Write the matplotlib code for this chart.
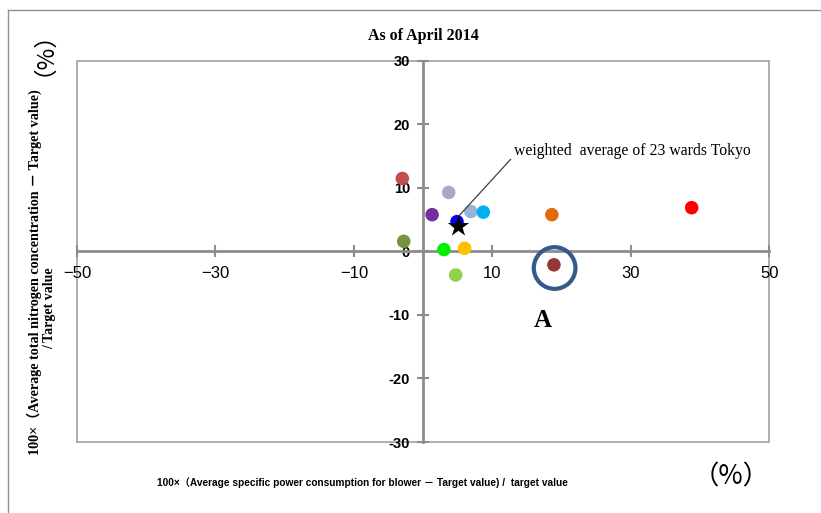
import matplotlib
matplotlib.use("Agg")
import matplotlib.pyplot as plt
from matplotlib.lines import Line2D
from matplotlib.patches import Rectangle

# ward values: x = blower power deviation (%), y = nitrogen deviation (%)
ward_x = [-3.0, 3.7, 1.3, 4.9, 6.9, 8.7, 18.6, 38.8, -2.8, 3.0, 6.0, 4.7, 18.9]
ward_y = [11.5, 9.3, 5.8, 4.7, 6.3, 6.2, 5.8, 6.9, 1.6, 0.3, 0.5, -3.7, -2.1]
ward_colors = ['#C0504D', '#B3A2C7', '#7030A0', '#0000FF', '#95B3D7', '#00B0F0',
               '#E36C09', '#FF0000', '#77933C', '#00F000', '#FFC000', '#92D050', '#953735']

avg_x = [5.0]
avg_y = [3.95]

circled_x = [19.0]
circled_y = [-2.6]

x_ticks = [-50, -30, -10, 10, 30, 50]
x_tick_labels = ['\u221250', '\u221230', '\u221210', '10', '30', '50']
y_ticks = [-30, -20, -10, 0, 10, 20, 30]
y_tick_labels = ['-30', '-20', '-10', '0', '10', '20', '30']

fig = plt.figure(figsize=(8.21, 5.13), dpi=100)
ax = fig.add_axes([0.0938, 0.1384, 0.8431, 0.7427])

ax.set_xlim(-50, 50)
ax.set_ylim(-30, 30)

# axes crossing at origin
for side in ['top', 'right']:
    ax.spines[side].set_visible(False)
ax.spines['left'].set_position(('data', 0))
ax.spines['bottom'].set_position(('data', 0))
for side in ['left', 'bottom']:
    ax.spines[side].set_color('#8c8c8c')
    ax.spines[side].set_linewidth(2)

# plot-area frame
ax.add_patch(Rectangle((0, 0), 1, 1, transform=ax.transAxes, fill=False,
                       edgecolor='#a0a0a0', linewidth=1.2, clip_on=False))

ax.set_xticks(x_ticks)
ax.set_xticklabels(x_tick_labels, fontsize=12, family='Liberation Sans')
ax.set_yticks(y_ticks)
ax.set_yticklabels(y_tick_labels, fontsize=10.5, family='Liberation Sans', fontweight='bold')
ax.tick_params(axis='both', direction='inout', length=9, width=1.5, color='#8c8c8c')
ax.tick_params(axis='x', pad=6)
ax.tick_params(axis='y', pad=5)

ax.scatter(ward_x, ward_y, c=ward_colors, s=95, zorder=3, linewidths=0)
ax.scatter(avg_x, avg_y, marker='*', c='black', s=260, zorder=4, linewidths=0)
ax.scatter(circled_x, circled_y, marker='o', s=900, facecolors='none',
           edgecolors='#34598A', linewidths=3, zorder=4)

ax.annotate('weighted  average of 23 wards Tokyo', xy=(5.0, 5.4), xytext=(13.2, 15.8),
            fontsize=11.3, family='Liberation Serif', ha='left', va='center',
            arrowprops=dict(arrowstyle='-', color='#404040', lw=0.9,
                            relpos=(0, 0.25), shrinkA=1, shrinkB=0))

ax.text(17.3, -10.8, 'A', fontsize=18, family='Liberation Serif', fontweight='bold',
        ha='center', va='center')

ax.set_title('As of April 2014', fontsize=11.5, family='Liberation Serif',
             fontweight='bold', pad=15)

cjk_serif = ['Liberation Serif', 'Noto Sans CJK JP']
cjk_sans = ['Liberation Sans', 'Noto Sans CJK JP']

fig.text(34 / 821, 1 - 272 / 513,
         '100\u00d7\uff08Average total nitrogen concentration \uff0d Target value)',
         rotation=90, ha='center', va='center', fontsize=10.2, family=cjk_serif,
         fontweight='bold')
fig.text(50 / 821, 1 - 308 / 513, '/ Target value', rotation=90, ha='center',
         va='center', fontsize=10, family=cjk_serif, fontweight='bold')
fig.text(32 / 821, 1 - 42 / 513, '\uff08%\uff09', rotation=90, ha='center',
         va='center', fontsize=17, family=['Noto Sans CJK JP'])

fig.text(362 / 821, 1 - 483 / 513,
         '100\u00d7\uff08Average specific power consumption for blower \uff0d Target value) /  target value',
         ha='center', va='center', fontsize=7.3, family=cjk_sans, fontweight='bold')
fig.text(731 / 821, 1 - 477 / 513, '\uff08%\uff09', ha='center', va='center',
         fontsize=19, family=['Noto Sans CJK JP'])

# outer frame edges (top and left visible in the image)
fig.add_artist(Line2D([8 / 821, 8 / 821], [0, 1 - 10 / 513], color='#909090', lw=1))
fig.add_artist(Line2D([8 / 821, 1], [1 - 10 / 513, 1 - 10 / 513], color='#909090', lw=1))

fig.savefig('out.png', dpi=100)
